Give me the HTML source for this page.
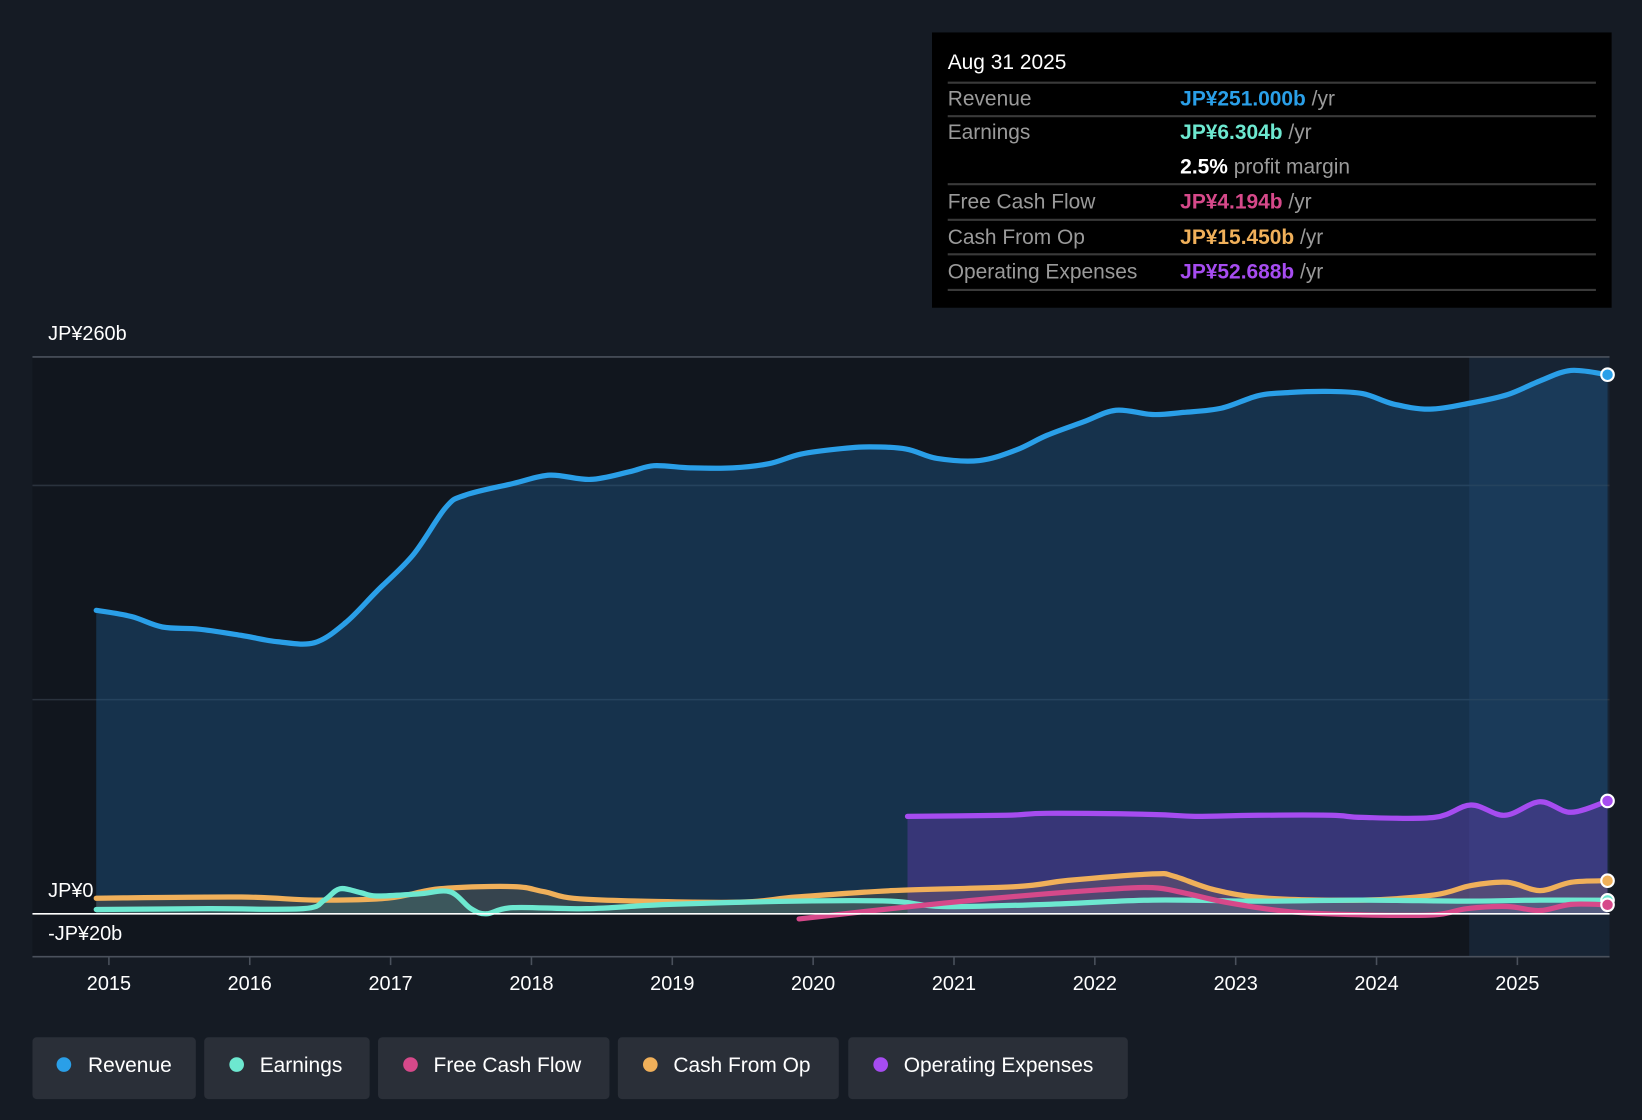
<!DOCTYPE html>
<html><head><meta charset="utf-8"><style>
html,body{margin:0;padding:0;background:#151b24;}
svg{display:block;font-family:"Liberation Sans",sans-serif;}
</style></head><body>
<svg id="chart" width="1642" height="1120" viewBox="0 0 1568 1070" preserveAspectRatio="none" xmlns="http://www.w3.org/2000/svg">
<rect x="0" y="0" width="1568" height="1070" fill="#151b24"/>
<rect x="31" y="341" width="1372" height="573" fill="#11161e"/>
<rect x="1403" y="341" width="134" height="573" fill="#172434"/>
<g id="grid"></g>
<g id="areas"></g>
<g id="lines"></g>
<g id="xaxis"></g>
<text x="46" y="325" fill="#fff" font-size="19">JP¥260b</text>
<text x="46" y="857" fill="#fff" font-size="19">JP¥0</text>
<text x="46" y="898" fill="#fff" font-size="19">-JP¥20b</text>

<g>
<rect x="890" y="31" width="649" height="263" fill="#000"/>
<text x="905" y="66" fill="#fff" font-size="20">Aug 31 2025</text>
<line x1="905" y1="79" x2="1524" y2="79" stroke="#3a3a3a" stroke-width="2"/>
<text x="905" y="101" fill="#9a9a9a" font-size="20">Revenue</text>
<text x="1127" y="101" font-size="20" fill="#9a9a9a"><tspan fill="#2a9fe8" font-weight="bold">JP¥251.000b</tspan> /yr</text>
<line x1="905" y1="111" x2="1524" y2="111" stroke="#3a3a3a" stroke-width="2"/>
<text x="905" y="133" fill="#9a9a9a" font-size="20">Earnings</text>
<text x="1127" y="133" font-size="20" fill="#9a9a9a"><tspan fill="#6de8d0" font-weight="bold">JP¥6.304b</tspan> /yr</text>
<text x="1127" y="166" font-size="20" fill="#9a9a9a"><tspan fill="#fff" font-weight="bold">2.5%</tspan> profit margin</text>
<line x1="905" y1="176" x2="1524" y2="176" stroke="#3a3a3a" stroke-width="2"/>
<text x="905" y="199" fill="#9a9a9a" font-size="20">Free Cash Flow</text>
<text x="1127" y="199" font-size="20" fill="#9a9a9a"><tspan fill="#d6498a" font-weight="bold">JP¥4.194b</tspan> /yr</text>
<line x1="905" y1="210" x2="1524" y2="210" stroke="#3a3a3a" stroke-width="2"/>
<text x="905" y="233" fill="#9a9a9a" font-size="20">Cash From Op</text>
<text x="1127" y="233" font-size="20" fill="#9a9a9a"><tspan fill="#f0b05a" font-weight="bold">JP¥15.450b</tspan> /yr</text>
<line x1="905" y1="243" x2="1524" y2="243" stroke="#3a3a3a" stroke-width="2"/>
<text x="905" y="266" fill="#9a9a9a" font-size="20">Operating Expenses</text>
<text x="1127" y="266" font-size="20" fill="#9a9a9a"><tspan fill="#a64cf0" font-weight="bold">JP¥52.688b</tspan> /yr</text>
<line x1="905" y1="277" x2="1524" y2="277" stroke="#3a3a3a" stroke-width="2"/>
</g>

<g>
<g><rect x="31" y="991" width="156" height="59" rx="4" fill="#2a2f38"/><circle cx="61" cy="1017" r="7" fill="#2a9fe8"/><text x="84" y="1024" fill="#fff" font-size="20">Revenue</text></g>
<g><rect x="195" y="991" width="158" height="59" rx="4" fill="#2a2f38"/><circle cx="226" cy="1017" r="7" fill="#6de8d0"/><text x="248" y="1024" fill="#fff" font-size="20">Earnings</text></g>
<g><rect x="361" y="991" width="221" height="59" rx="4" fill="#2a2f38"/><circle cx="392" cy="1017" r="7" fill="#d6498a"/><text x="414" y="1024" fill="#fff" font-size="20">Free Cash Flow</text></g>
<g><rect x="590" y="991" width="211" height="59" rx="4" fill="#2a2f38"/><circle cx="621" cy="1017" r="7" fill="#f0b05a"/><text x="643" y="1024" fill="#fff" font-size="20">Cash From Op</text></g>
<g><rect x="810" y="991" width="267" height="59" rx="4" fill="#2a2f38"/><circle cx="841" cy="1017" r="7" fill="#a64cf0"/><text x="863" y="1024" fill="#fff" font-size="20">Operating Expenses</text></g>
</g>
</svg>
<script>
const years = [2015,2016,2017,2018,2019,2020,2021,2022,2023,2024,2025];
const gridValues = [260,200,100];
const revDates = [2014.91,2015.16,2015.38,2015.64,2015.94,2016.2,2016.46,2016.68,2016.9,2017.16,2017.39,2017.53,2017.87,2018.13,2018.42,2018.69,2018.87,2019.13,2019.43,2019.69,2019.91,2020.17,2020.4,2020.66,2020.88,2021.18,2021.44,2021.66,2021.92,2022.15,2022.41,2022.63,2022.9,2023.16,2023.38,2023.64,2023.9,2024.12,2024.38,2024.67,2024.93,2025.16,2025.38,2025.64];
const revValues = [141.7,138.8,133.9,132.9,130,127,126.6,135.9,150.5,167.6,189.6,195.5,200.9,204.8,202.8,206.3,209.2,208.2,208.2,210.2,214.6,217,218,217,212.6,211.6,216.5,223.4,229.7,235.1,233.1,234.1,236.1,241.9,243.4,243.9,242.9,238,235.6,238.5,242.4,248.8,253.7,251.7];
const earnDates = [2014.91,2015.71,2016.38,2016.53,2016.64,2016.79,2016.9,2017.2,2017.42,2017.57,2017.68,2017.87,2018.39,2018.98,2019.88,2020.55,2020.92,2021.66,2022.41,2023.16,2023.9,2024.64,2025.16,2025.64];
const earnValues = [2,2.4,2.4,6.4,11.7,9.8,8.3,9.3,10.3,2.4,0,2.9,2.4,4.4,5.9,5.9,3.4,4.4,6.4,5.9,6.4,5.9,6.4,6.3];
const fcfDates = [2019.9,2020.55,2021.29,2022.04,2022.41,2022.63,2022.93,2023.38,2023.9,2024.41,2024.64,2024.93,2025.16,2025.38,2025.64];
const fcfValues = [-2.4,2.4,7.3,11.2,12.2,9.8,5.4,1,-0.5,-0.5,2.4,3.4,1.5,4.4,4.2];
const cfoDates = [2014.91,2015.94,2016.46,2016.98,2017.35,2017.87,2018.09,2018.39,2019.43,2019.88,2020.55,2021.44,2021.81,2022.41,2022.56,2022.85,2023.23,2023.9,2024.41,2024.67,2024.93,2025.16,2025.38,2025.64];
const cfoValues = [7.3,7.8,6.4,7.3,11.7,12.7,10.3,6.8,5.4,7.8,10.8,12.7,15.6,18.6,17.6,11.2,7.3,6.4,8.8,13.2,14.7,10.8,14.7,15.45];
const opexDates = [2020.67,2021.37,2021.66,2022.41,2022.71,2023.16,2023.68,2023.9,2024.41,2024.67,2024.91,2025.16,2025.38,2025.64];
const opexValues = [45.5,46,46.9,46.4,45.5,46,46,45,45,50.8,46,52.3,47.4,52.7];

const NS='http://www.w3.org/2000/svg';
const X0=104, PXY=134.5, Y0=873, PXV=532/260;
function xs(d){return X0+(d-2015)*PXY;}
function ys(v){return Y0-v*PXV;}
function mk(tag,attrs,parent){const e=document.createElementNS(NS,tag);for(const k in attrs)e.setAttribute(k,attrs[k]);parent.appendChild(e);return e;}
function smooth(pts){
  let d='M'+pts[0][0].toFixed(1)+','+pts[0][1].toFixed(1);
  for(let i=0;i<pts.length-1;i++){
    const p0=pts[i-1]||pts[i],p1=pts[i],p2=pts[i+1],p3=pts[i+2]||p2;
    const c1x=p1[0]+(p2[0]-p0[0])/6,c1y=p1[1]+(p2[1]-p0[1])/6;
    const c2x=p2[0]-(p3[0]-p1[0])/6,c2y=p2[1]-(p3[1]-p1[1])/6;
    d+=' C'+c1x.toFixed(1)+','+c1y.toFixed(1)+' '+c2x.toFixed(1)+','+c2y.toFixed(1)+' '+p2[0].toFixed(1)+','+p2[1].toFixed(1);
  }
  return d;
}
const grid=document.getElementById('grid'),areas=document.getElementById('areas'),lines=document.getElementById('lines'),xaxis=document.getElementById('xaxis');
gridValues.forEach(v=>{
  const l=mk('line',{x1:31,x2:1537,y1:ys(v),y2:ys(v),stroke:v===260?'#4a515c':'#2a323d','stroke-width':1.5},grid);
  
  
});
const series=[
 {name:'revenue',d:revDates,v:revValues,c:'#2a9fe8',fill:'rgba(30,90,140,0.42)'},
 {name:'operating-expenses',d:opexDates,v:opexValues,c:'#a64cf0',fill:'rgba(110,60,190,0.38)'},
 {name:'cash-from-op',d:cfoDates,v:cfoValues,c:'#f0b05a',fill:'rgba(200,150,90,0.18)'},
 {name:'earnings',d:earnDates,v:earnValues,c:'#6de8d0',fill:'rgba(110,230,200,0.12)'},
 {name:'free-cash-flow',d:fcfDates,v:fcfValues,c:'#d6498a',fill:null}
];
series.forEach(s=>{
  const pts=s.d.map((d,i)=>[xs(d),ys(s.v[i])]);
  const path=smooth(pts);
  if(s.fill){
    const a=mk('path',{d:path+' L'+pts[pts.length-1][0]+','+Y0+' L'+pts[0][0]+','+Y0+' Z',fill:s.fill},areas);
    
    
  }
  const l=mk('path',{d:path,fill:'none',stroke:s.c,'stroke-width':5,'stroke-linecap':'round','stroke-linejoin':'round'},lines);
  
  
  const last=pts[pts.length-1];
  const dot=mk('circle',{cx:last[0],cy:last[1],r:6,fill:s.c,stroke:'#fff','stroke-width':2},lines);
  
  
});
const zl=mk('line',{x1:31,x2:1537,y1:Y0,y2:Y0,stroke:'#ffffff','stroke-width':1.5},lines);


const bl=mk('line',{x1:31,x2:1537,y1:914,y2:914,stroke:'#4a515c','stroke-width':1.5},xaxis);


years.forEach(y=>{
  const t=mk('line',{x1:xs(y),x2:xs(y),y1:914,y2:922,stroke:'#4a515c','stroke-width':1.5},xaxis);
  
  
  const tx=mk('text',{x:xs(y),y:946,fill:'#fff','font-size':19,'text-anchor':'middle'},xaxis);
  tx.textContent=y;
  
  
});
</script>
</body></html>
